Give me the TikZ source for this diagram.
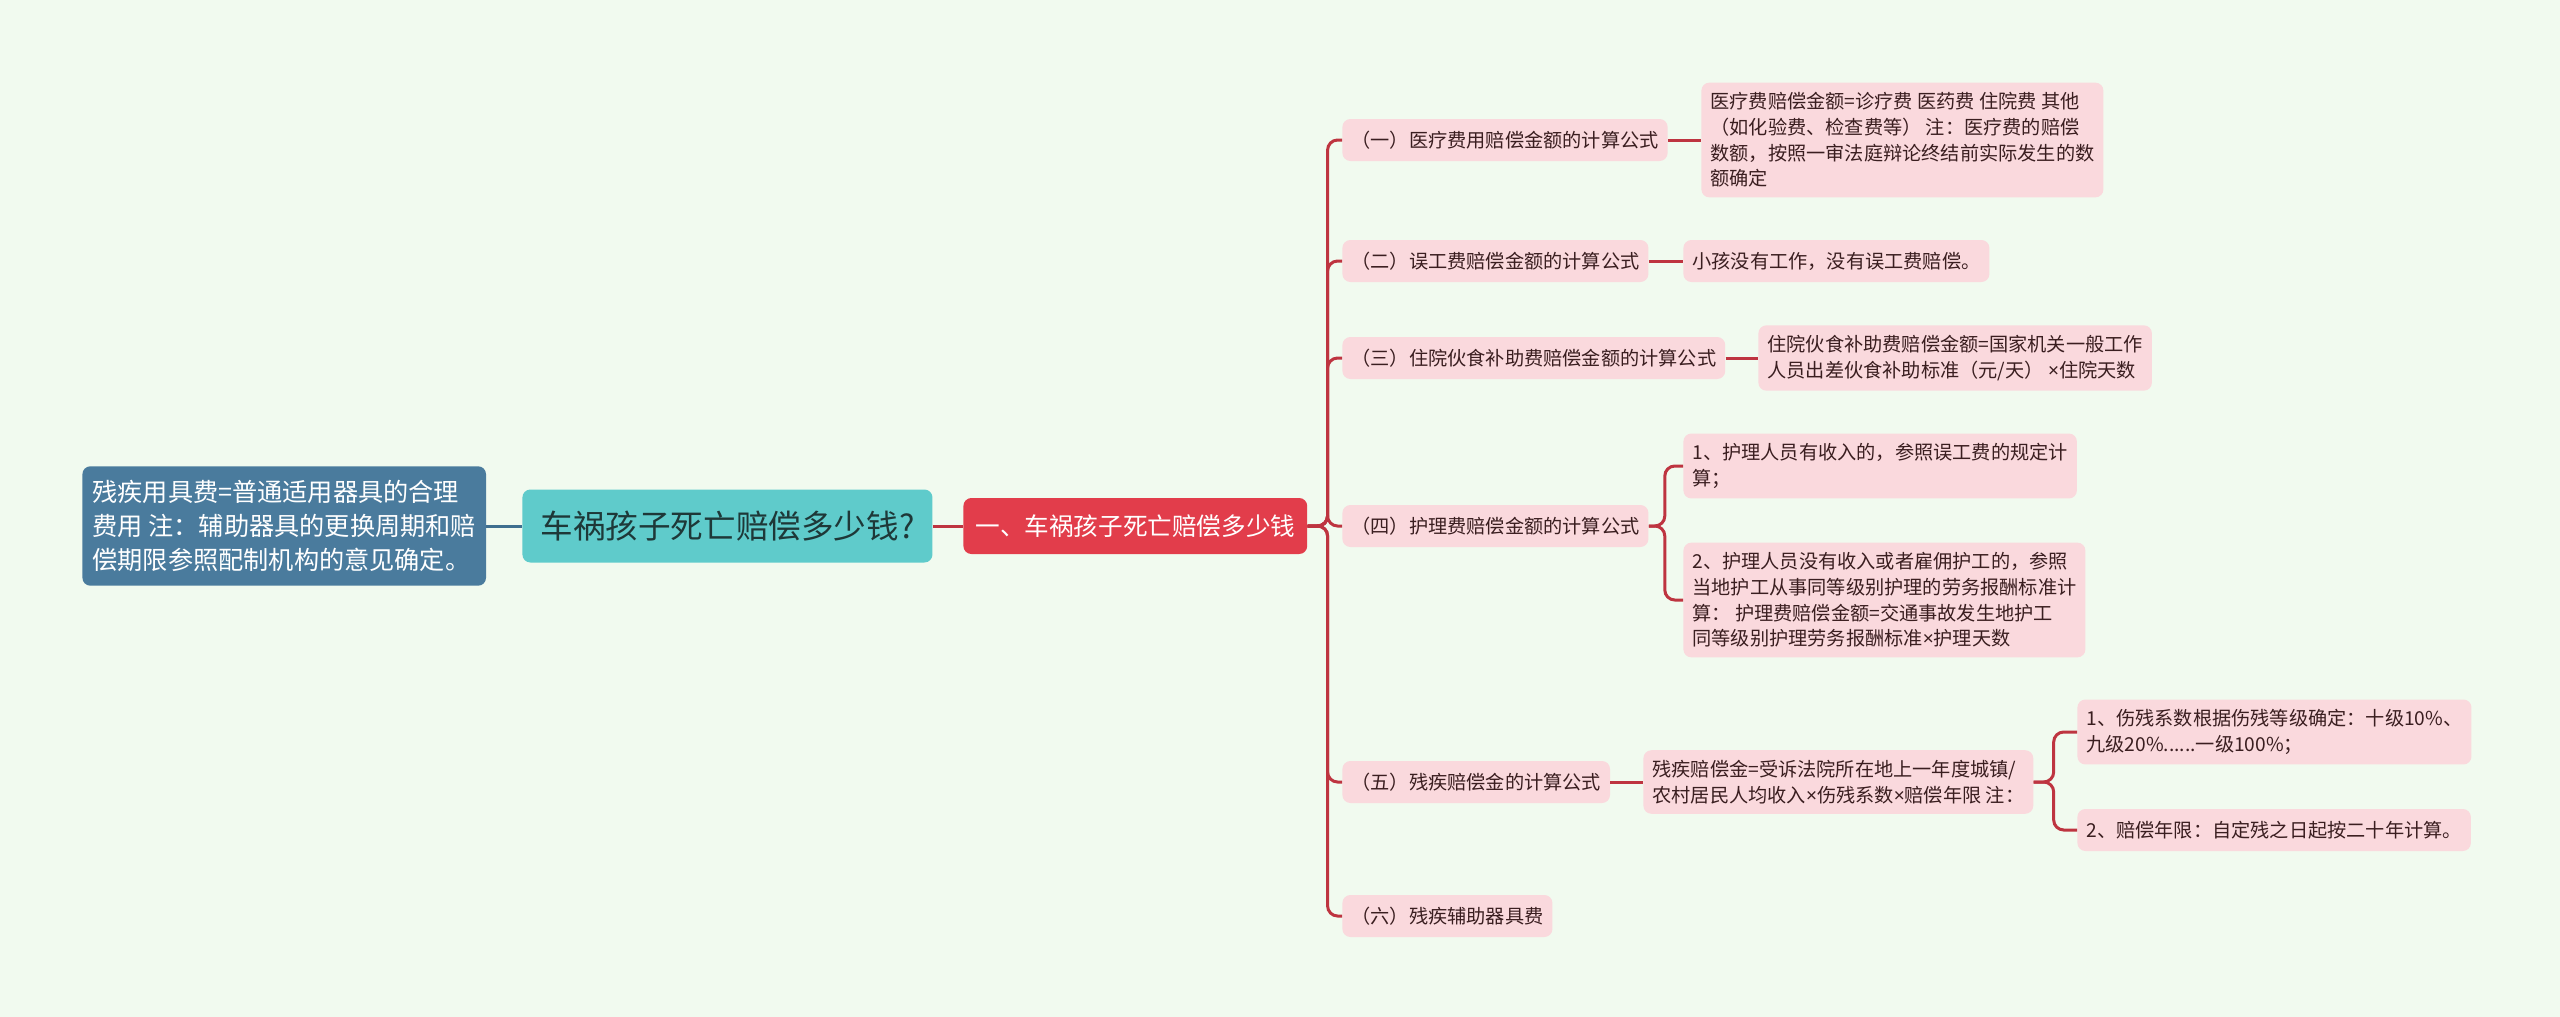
\documentclass[tikz,border=0pt]{standalone}
\usepackage{fontspec}
\setmainfont{Noto Sans CJK SC}
\newfontfamily\latinsans{Noto Sans}
\usepackage{tikz}
\usetikzlibrary{positioning}
\definecolor{bgcol}{HTML}{F1FAEF}
\definecolor{pinkfill}{HTML}{FAD9DD}
\definecolor{pinktext}{HTML}{3A1E20}
\definecolor{linered}{HTML}{BE3440}
\definecolor{rednode}{HTML}{E23D4B}
\definecolor{rootfill}{HTML}{5FCBCB}
\definecolor{roottext}{HTML}{1E3838}
\definecolor{bluefill}{HTML}{4A7B9D}
\definecolor{blueline}{HTML}{3F6F8F}
\newcommand{\tms}{{\latinsans ×}}
\tikzset{
  leaf/.style={fill=pinkfill,text=pinktext,rounded corners=4pt,inner xsep=4.5pt,inner ysep=5pt,
    minimum height=21pt,align=left,anchor=west,font=\fontsize{9.6pt}{12.8pt}\selectfont},
  link/.style={draw=linered,line width=1.5pt,rounded corners=5pt},
}

\begin{document}
\begin{tikzpicture}[x=0.5pt,y=-0.5pt]
\fill[bgcol](0,0)rectangle(2560,1017);
\useasboundingbox(0,0)rectangle(2560,1017);
%% left part
\node[anchor=west,fill=bluefill,text=white,rounded corners=4pt,align=left,inner xsep=5pt,inner ysep=7pt,
  font=\fontsize{12.6pt}{17pt}\selectfont](note)at(82,526){残疾用具费=普通适用器具的合理\\费用 注：辅助器具的更换周期和赔\\偿期限参照配制机构的意见确定。};
\node[anchor=west,fill=rootfill,text=roottext,rounded corners=4pt,inner xsep=9pt,minimum height=36.5pt,
  font=\fontsize{16.3pt}{20pt}\selectfont](root)at(522,526){车祸孩子死亡赔偿多少钱?};
\node[anchor=west,fill=rednode,text=white,rounded corners=4pt,inner xsep=6pt,minimum height=28pt,
  font=\fontsize{12.3pt}{14pt}\selectfont](main)at(963,526){一、车祸孩子死亡赔偿多少钱};
\draw[blueline,line width=1.5pt](note.east)--(root.west);
\draw[link](root.east)--(main.west);
%% branches
\node[leaf](c1)at(1342,140){（一）医疗费用赔偿金额的计算公式};
\node[leaf](c2)at(1342,261){（二）误工费赔偿金额的计算公式};
\node[leaf](c3)at(1342,358){（三）住院伙食补助费赔偿金额的计算公式};
\node[leaf](c4)at(1342,526){（四）护理费赔偿金额的计算公式};
\node[leaf](c5)at(1342,782){（五）残疾赔偿金的计算公式};
\node[leaf](c6)at(1342,916){（六）残疾辅助器具费};
\foreach \c in {c1,c2,c3,c4,c5,c6}
  \draw[link](main.east)--++(20,0)|-(\c.west);
%% details
\node[leaf](d1)at(1701,140){医疗费赔偿金额=诊疗费 医药费 住院费 其他\\（如化验费、检查费等） 注：医疗费的赔偿\\数额，按照一审法庭辩论终结前实际发生的数\\额确定};
\node[leaf](d2)at(1683,261){小孩没有工作，没有误工费赔偿。};
\node[leaf](d3)at(1758,358){住院伙食补助费赔偿金额=国家机关一般工作\\人员出差伙食补助标准（元/天） \tms 住院天数};
\node[leaf](d4a)at(1683,466){1、护理人员有收入的，参照误工费的规定计\\算；};
\node[leaf](d4b)at(1683,600){2、护理人员没有收入或者雇佣护工的，参照\\当地护工从事同等级别护理的劳务报酬标准计\\算： 护理费赔偿金额=交通事故发生地护工\\同等级别护理劳务报酬标准\tms 护理天数};
\node[leaf](d5)at(1643,782){残疾赔偿金=受诉法院所在地上一年度城镇/\\农村居民人均收入\tms 伤残系数\tms 赔偿年限 注：};
\node[leaf](d5a)at(2077,732){1、伤残系数根据伤残等级确定：十级10\%、\\九级20\%......一级100\%；};
\node[leaf](d5b)at(2077,830){2、赔偿年限：自定残之日起按二十年计算。};
\draw[link](c1.east)--(d1.west);
\draw[link](c2.east)--(d2.west);
\draw[link](c3.east)--(d3.west);
\draw[link](c5.east)--(d5.west);
\foreach \d in {d4a,d4b}
  \draw[link](c4.east)--++(16,0)|-(\d.west);
\foreach \d in {d5a,d5b}
  \draw[link](d5.east)--++(20,0)|-(\d.west);
\end{tikzpicture}
\end{document}
